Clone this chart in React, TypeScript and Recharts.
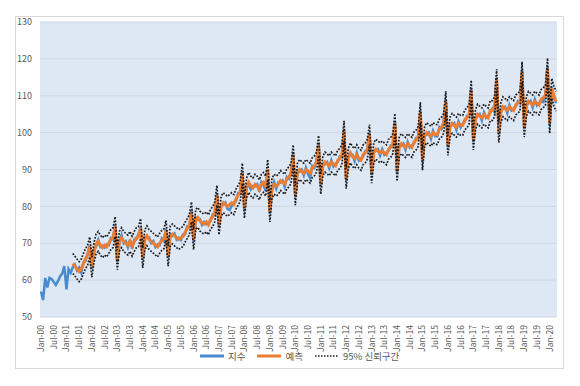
import { LineChart, Line, XAxis, YAxis, CartesianGrid } from "recharts";

const monthNames = ["Jan", "Feb", "Mar", "Apr", "May", "Jun", "Jul", "Aug", "Sep", "Oct", "Nov", "Dec"];
const firstYear = 2000;
const yTicks = [50, 60, 70, 80, 90, 100, 110, 120, 130];

// 지수 (actual index), Jan-00 .. Apr-20
const actual = [
  56.9, 54.6, 60.6, 58.0, 60.6, 60.3, 59.5, 58.7, 59.7, 61.0, 61.8, 63.8,
  57.5, 63.0, 62.0, 63.5, 64.2, 62.6, 63.4, 62.0, 64.8, 65.2, 67.2, 69.3,
  63.0, 68.0, 69.2, 70.9, 69.0, 69.3, 68.8, 69.6, 69.5, 71.4, 71.0, 75.0,
  65.0, 70.2, 72.2, 70.0, 70.6, 68.9, 71.0, 68.5, 71.0, 71.0, 72.5, 74.3,
  65.5, 71.6, 71.5, 71.6, 70.0, 70.6, 69.0, 69.7, 69.5, 71.3, 70.6, 74.0,
  66.0, 72.4, 72.0, 72.6, 71.0, 71.5, 70.9, 72.4, 72.5, 74.6, 74.4, 79.0,
  70.5, 77.0, 76.4, 76.5, 75.0, 75.8, 75.2, 75.6, 76.0, 77.8, 78.0, 83.5,
  74.5, 80.5, 80.4, 81.0, 79.3, 79.0, 80.2, 81.0, 81.4, 83.6, 83.4, 89.5,
  79.0, 85.6, 85.8, 84.6, 85.5, 85.4, 86.0, 84.0, 86.6, 85.8, 84.2, 89.4,
  78.0, 84.3, 86.6, 84.8, 86.5, 86.4, 87.0, 85.3, 88.0, 87.5, 89.5, 94.5,
  82.5, 89.6, 89.4, 90.0, 88.4, 90.5, 88.8, 87.6, 91.0, 90.5, 92.5, 97.0,
  85.5, 91.5, 91.4, 92.0, 90.4, 92.5, 90.8, 91.5, 92.0, 93.6, 93.4, 101.0,
  87.0, 93.5, 94.0, 94.0, 92.3, 94.5, 92.4, 93.0, 93.5, 95.0, 95.0, 100.0,
  88.5, 95.0, 95.0, 95.5, 93.8, 95.5, 94.0, 94.6, 95.0, 96.5, 96.5, 103.0,
  89.0, 96.5, 96.4, 97.0, 95.3, 97.5, 96.0, 96.6, 97.0, 98.5, 98.3, 106.0,
  92.0, 99.5, 99.4, 100.0, 98.3, 100.5, 99.0, 99.0, 101.5, 101.0, 103.0, 109.0,
  96.0, 102.0, 102.0, 102.6, 100.8, 103.0, 101.4, 102.5, 103.0, 104.5, 104.4, 112.0,
  97.5, 104.0, 104.5, 105.0, 103.3, 105.5, 104.0, 104.5, 105.4, 106.5, 105.5, 115.0,
  99.5, 106.0, 106.5, 107.0, 105.3, 107.5, 106.0, 106.5, 107.0, 108.5, 108.0, 117.0,
  101.0, 107.5, 108.0, 108.6, 106.8, 109.0, 107.4, 108.0, 108.5, 108.3, 110.5, 118.0,
  102.0, 112.5, 109.5, 108.0,
];

// 예측 and 95% 신뢰구간 start at Apr-01
const forecastStart = 15;

const forecast = [
  64.5, 63.8, 63.0, 62.3, 63.0, 64.5, 65.8, 66.8, 69.0,
  63.5, 67.5, 69.8, 70.5, 69.5, 68.8, 69.5, 69.0, 70.0, 71.0, 71.5, 74.5,
  65.5, 70.5, 71.5, 70.5, 70.0, 69.5, 70.5, 69.2, 70.5, 71.5, 71.8, 74.0,
  66.0, 71.0, 72.0, 71.0, 70.5, 70.0, 69.5, 69.0, 70.0, 70.8, 71.2, 73.5,
  66.5, 72.0, 72.5, 72.0, 71.5, 71.0, 71.5, 71.8, 73.0, 74.0, 75.0, 78.5,
  71.0, 76.5, 77.0, 76.0, 75.5, 75.2, 75.8, 75.0, 76.5, 77.2, 78.5, 83.0,
  75.0, 80.0, 81.0, 80.5, 80.0, 80.5, 81.0, 80.5, 82.0, 83.0, 84.0, 89.0,
  79.5, 85.0, 86.5, 85.5, 85.0, 86.0, 85.5, 84.5, 86.0, 86.5, 85.5, 90.0,
  78.5, 85.0, 86.0, 85.5, 86.0, 87.0, 86.5, 86.0, 87.5, 88.0, 89.0, 94.0,
  83.0, 89.0, 90.0, 89.5, 89.0, 90.0, 89.5, 89.0, 90.5, 91.0, 92.0, 96.5,
  86.0, 91.0, 92.0, 91.5, 91.0, 92.0, 91.5, 91.0, 92.5, 93.0, 94.0, 100.5,
  87.5, 93.0, 94.5, 93.5, 93.0, 94.0, 93.0, 92.5, 94.0, 94.5, 95.5, 99.5,
  89.0, 94.5, 95.5, 95.0, 94.5, 95.0, 94.5, 94.0, 95.5, 96.0, 97.0, 102.5,
  89.5, 96.0, 97.0, 96.5, 96.0, 97.0, 96.5, 96.0, 97.5, 98.0, 99.0, 105.5,
  92.5, 99.0, 100.0, 99.5, 99.0, 100.0, 99.5, 99.5, 101.0, 101.5, 102.5, 108.5,
  96.5, 101.5, 102.5, 102.0, 101.5, 102.5, 102.0, 102.0, 103.5, 104.0, 105.0, 111.5,
  98.0, 103.5, 105.0, 104.5, 104.0, 105.0, 104.5, 104.0, 106.0, 106.0, 107.0, 114.5,
  100.0, 105.5, 107.0, 106.5, 106.0, 107.0, 106.5, 106.0, 107.5, 108.0, 108.5, 116.5,
  101.5, 107.0, 108.5, 108.0, 107.5, 108.5, 108.0, 107.5, 109.0, 109.5, 110.0, 117.5,
  102.5, 112.0, 110.0, 108.5,
];

const upper = [
  67.2, 66.5, 65.7, 65.0, 65.7, 67.2, 68.5, 69.5, 71.7,
  66.2, 70.2, 72.5, 73.2, 72.2, 71.5, 72.2, 71.7, 72.7, 73.7, 74.2, 77.2,
  68.2, 73.2, 74.2, 73.2, 72.7, 72.2, 73.2, 71.9, 73.2, 74.2, 74.5, 76.7,
  68.7, 73.7, 74.7, 73.7, 73.2, 72.7, 72.2, 71.7, 72.7, 73.5, 73.9, 76.2,
  69.2, 74.7, 75.2, 74.7, 74.2, 73.7, 74.2, 74.5, 75.7, 76.7, 77.7, 81.2,
  73.7, 79.2, 79.7, 78.7, 78.2, 77.9, 78.5, 77.7, 79.2, 79.9, 81.2, 85.7,
  77.7, 82.7, 83.7, 83.2, 82.7, 83.2, 83.7, 83.2, 84.7, 85.7, 86.7, 91.7,
  82.2, 87.7, 89.2, 88.2, 87.7, 88.7, 88.2, 87.2, 88.7, 89.2, 88.2, 92.7,
  81.2, 87.7, 88.7, 88.2, 88.7, 89.7, 89.2, 88.7, 90.2, 90.7, 91.7, 96.7,
  85.7, 91.7, 92.7, 92.2, 91.7, 92.7, 92.2, 91.7, 93.2, 93.7, 94.7, 99.2,
  88.7, 93.7, 94.7, 94.2, 93.7, 94.7, 94.2, 93.7, 95.2, 95.7, 96.7, 103.2,
  90.2, 95.7, 97.2, 96.2, 95.7, 96.7, 95.7, 95.2, 96.7, 97.2, 98.2, 102.2,
  91.7, 97.2, 98.2, 97.7, 97.2, 97.7, 97.2, 96.7, 98.2, 98.7, 99.7, 105.2,
  92.2, 98.7, 99.7, 99.2, 98.7, 99.7, 99.2, 98.7, 100.2, 100.7, 101.7, 108.2,
  95.2, 101.7, 102.7, 102.2, 101.7, 102.7, 102.2, 102.2, 103.7, 104.2, 105.2, 111.2,
  99.2, 104.2, 105.2, 104.7, 104.2, 105.2, 104.7, 104.7, 106.2, 106.7, 107.7, 114.2,
  100.7, 106.2, 107.7, 107.2, 106.7, 107.7, 107.2, 106.7, 108.7, 108.7, 109.7, 117.2,
  102.7, 108.2, 109.7, 109.2, 108.7, 109.7, 109.2, 108.7, 110.2, 110.7, 111.2, 119.2,
  104.2, 109.7, 111.2, 110.7, 110.2, 111.2, 110.7, 110.2, 111.7, 112.2, 112.7, 120.2,
  105.2, 114.7, 112.7, 111.2,
];

const lower = [
  61.8, 61.1, 60.3, 59.6, 60.3, 61.8, 63.1, 64.1, 66.3,
  60.8, 64.8, 67.1, 67.8, 66.8, 66.1, 66.8, 66.3, 67.3, 68.3, 68.8, 71.8,
  62.8, 67.8, 68.8, 67.8, 67.3, 66.8, 67.8, 66.5, 67.8, 68.8, 69.1, 71.3,
  63.3, 68.3, 69.3, 68.3, 67.8, 67.3, 66.8, 66.3, 67.3, 68.1, 68.5, 70.8,
  63.8, 69.3, 69.8, 69.3, 68.8, 68.3, 68.8, 69.1, 70.3, 71.3, 72.3, 75.8,
  68.3, 73.8, 74.3, 73.3, 72.8, 72.5, 73.1, 72.3, 73.8, 74.5, 75.8, 80.3,
  72.3, 77.3, 78.3, 77.8, 77.3, 77.8, 78.3, 77.8, 79.3, 80.3, 81.3, 86.3,
  76.8, 82.3, 83.8, 82.8, 82.3, 83.3, 82.8, 81.8, 83.3, 83.8, 82.8, 87.3,
  75.8, 82.3, 83.3, 82.8, 83.3, 84.3, 83.8, 83.3, 84.8, 85.3, 86.3, 91.3,
  80.3, 86.3, 87.3, 86.8, 86.3, 87.3, 86.8, 86.3, 87.8, 88.3, 89.3, 93.8,
  83.3, 88.3, 89.3, 88.8, 88.3, 89.3, 88.8, 88.3, 89.8, 90.3, 91.3, 97.8,
  84.8, 90.3, 91.8, 90.8, 90.3, 91.3, 90.3, 89.8, 91.3, 91.8, 92.8, 96.8,
  86.3, 91.8, 92.8, 92.3, 91.8, 92.3, 91.8, 91.3, 92.8, 93.3, 94.3, 99.8,
  86.8, 93.3, 94.3, 93.8, 93.3, 94.3, 93.8, 93.3, 94.8, 95.3, 96.3, 102.8,
  89.8, 96.3, 97.3, 96.8, 96.3, 97.3, 96.8, 96.8, 98.3, 98.8, 99.8, 105.8,
  93.8, 98.8, 99.8, 99.3, 98.8, 99.8, 99.3, 99.3, 100.8, 101.3, 102.3, 108.8,
  95.3, 100.8, 102.3, 101.8, 101.3, 102.3, 101.8, 101.3, 103.3, 103.3, 104.3, 111.8,
  97.3, 102.8, 104.3, 103.8, 103.3, 104.3, 103.8, 103.3, 104.8, 105.3, 105.8, 113.8,
  98.8, 104.3, 105.8, 105.3, 104.8, 105.8, 105.3, 104.8, 106.3, 106.8, 107.3, 114.8,
  99.8, 109.3, 107.3, 105.8,
];

const labels = actual.map((_, i) => {
  const yy = String(firstYear + Math.floor(i / 12)).slice(2);
  return `${monthNames[i % 12]}-${yy}`;
});

const data = actual.map((v, i) => {
  const j = i - forecastStart;
  return {
    label: labels[i],
    actual: v,
    forecast: j >= 0 ? forecast[j] : null,
    upper: j >= 0 ? upper[j] : null,
    lower: j >= 0 ? lower[j] : null,
  };
});

const FONT = "'Noto Sans CJK KR', 'Noto Sans', sans-serif";
const TEXT = "#595959";
const BLUE = "#4a8bce";
const ORANGE = "#ed7d31";
const DOT = "#1a1a1a";

function MonthTick(props: any) {
  const { x, y, payload } = props;
  return (
    <text
      x={x}
      y={y}
      dy="0.35em"
      transform={`rotate(-90 ${x} ${y})`}
      textAnchor="end"
      fontSize={8.5}
      fill={TEXT}
      fontFamily={FONT}
    >
      {payload.value}
    </text>
  );
}

function LegendItem({ kind, text }: { kind: "blue" | "orange" | "dot"; text: string }) {
  return (
    <span style={{ display: "flex", alignItems: "center", gap: 4 }}>
      <svg width={24} height={6}>
        {kind === "dot" ? (
          <line x1={0} y1={3} x2={24} y2={3} stroke={DOT} strokeWidth={1.6} strokeDasharray="1.5 1.5" />
        ) : (
          <line x1={0} y1={3} x2={24} y2={3} stroke={kind === "blue" ? BLUE : ORANGE} strokeWidth={3} />
        )}
      </svg>
      <span>{text}</span>
    </span>
  );
}

export default function App() {
  return (
    <div style={{ position: "absolute", left: 0, top: 0, width: 580, height: 386, background: "#fff", fontFamily: FONT }}>
      <div
        style={{
          position: "absolute",
          left: 15,
          top: 16,
          width: 547,
          height: 351,
          border: "1px solid #d9d9d9",
        }}
      />
      <div style={{ position: "absolute", left: 0, top: 0 }}>
        <LineChart width={580} height={386} data={data} margin={{ top: 22, right: 23, bottom: 29, left: 0 }}>
          <CartesianGrid vertical={false} stroke="#cdd6e2" fill="#dee8f4" />
          <XAxis
            dataKey="label"
            interval={5}
            tick={<MonthTick />}
            tickLine={false}
            axisLine={false}
            height={40}
            padding={{ left: 1, right: 1 }}
          />
          <YAxis
            domain={[50, 130]}
            ticks={yTicks}
            width={40}
            tickLine={false}
            axisLine={false}
            tick={{ fontSize: 9, fill: TEXT, fontFamily: FONT }}
          />
          <Line type="linear" dataKey="actual" stroke={BLUE} strokeWidth={2.5} dot={false} isAnimationActive={false} />
          <Line type="linear" dataKey="forecast" stroke={ORANGE} strokeWidth={3} dot={false} isAnimationActive={false} />
          <Line
            type="linear"
            dataKey="upper"
            stroke={DOT}
            strokeWidth={1.7}
            strokeDasharray="1.7 1.5"
            dot={false}
            isAnimationActive={false}
          />
          <Line
            type="linear"
            dataKey="lower"
            stroke={DOT}
            strokeWidth={1.7}
            strokeDasharray="1.7 1.5"
            dot={false}
            isAnimationActive={false}
          />
        </LineChart>
      </div>
      <div
        style={{
          position: "absolute",
          left: 200,
          top: 349,
          display: "flex",
          gap: 12,
          fontSize: 9.5,
          color: TEXT,
          lineHeight: "14px",
        }}
      >
        <LegendItem kind="blue" text="지수" />
        <LegendItem kind="orange" text="예측" />
        <LegendItem kind="dot" text="95% 신뢰구간" />
      </div>
    </div>
  );
}
